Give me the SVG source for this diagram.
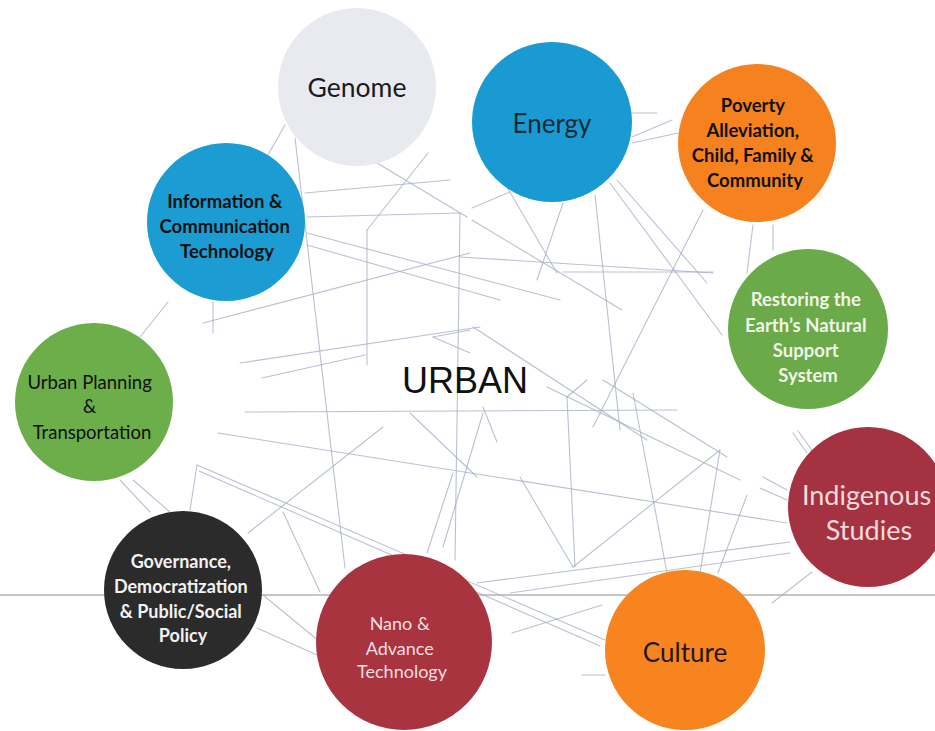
<svg xmlns="http://www.w3.org/2000/svg" width="935" height="731" viewBox="0 0 935 731">
  <style>
    .web line { stroke: #a3adc4; stroke-width: 1.1; stroke-linecap: round; opacity: 0.75; }
    .rule { stroke: #8c8c8c; stroke-width: 1; }
    .lbl { font-family: Lato, "Open Sans", "Liberation Sans", sans-serif; text-anchor: middle; }
    .b { font-weight: bold; }
    .center { font-family: "Liberation Sans", Arial, sans-serif; font-size: 36px; fill: #111; text-anchor: middle; }
  </style>
  <rect width="935" height="731" fill="#ffffff"/>

  <!-- thin horizontal rule behind everything -->
  <line class="rule" x1="0" y1="595" x2="935" y2="595"/>

  <!-- connector web -->
  <g id="connectors" class="web">
    <line x1="285" y1="125" x2="268" y2="155"/>
    <line x1="168" y1="302" x2="140" y2="337"/>
    <line x1="295" y1="138" x2="345" y2="568"/>
    <line x1="377" y1="163" x2="467" y2="217"/>
    <line x1="428" y1="153" x2="367" y2="230"/>
    <line x1="305" y1="193" x2="450" y2="180"/>
    <line x1="307" y1="217" x2="460" y2="213"/>
    <line x1="307" y1="233" x2="560" y2="300"/>
    <line x1="307" y1="245" x2="500" y2="300"/>
    <line x1="203" y1="323" x2="470" y2="253"/>
    <line x1="213" y1="302" x2="213" y2="333"/>
    <line x1="367" y1="230" x2="367" y2="365"/>
    <line x1="460" y1="213" x2="455" y2="560"/>
    <line x1="240" y1="363" x2="480" y2="327"/>
    <line x1="262" y1="378" x2="365" y2="355"/>
    <line x1="433" y1="337" x2="470" y2="330"/>
    <line x1="433" y1="337" x2="470" y2="353"/>
    <line x1="507" y1="187" x2="557" y2="273"/>
    <line x1="563" y1="203" x2="537" y2="280"/>
    <line x1="595" y1="195" x2="620" y2="430"/>
    <line x1="610" y1="183" x2="722" y2="335"/>
    <line x1="617" y1="180" x2="707" y2="283"/>
    <line x1="703" y1="210" x2="593" y2="427"/>
    <line x1="753" y1="225" x2="747" y2="273"/>
    <line x1="773" y1="225" x2="773" y2="250"/>
    <line x1="460" y1="257" x2="713" y2="273"/>
    <line x1="563" y1="272" x2="713" y2="272"/>
    <line x1="473" y1="327" x2="647" y2="440"/>
    <line x1="632" y1="113" x2="657" y2="113"/>
    <line x1="632" y1="137" x2="672" y2="120"/>
    <line x1="632" y1="143" x2="678" y2="133"/>
    <line x1="472" y1="208" x2="510" y2="192"/>
    <line x1="472" y1="220" x2="622" y2="310"/>
    <line x1="218" y1="433" x2="787" y2="523"/>
    <line x1="245" y1="412" x2="677" y2="410"/>
    <line x1="197" y1="465" x2="190" y2="510"/>
    <line x1="197" y1="465" x2="605" y2="640"/>
    <line x1="199" y1="471" x2="600" y2="646"/>
    <line x1="248" y1="533" x2="383" y2="427"/>
    <line x1="120" y1="480" x2="150" y2="512"/>
    <line x1="133" y1="480" x2="170" y2="512"/>
    <line x1="263" y1="595" x2="320" y2="642"/>
    <line x1="257" y1="628" x2="317" y2="655"/>
    <line x1="283" y1="512" x2="320" y2="592"/>
    <line x1="453" y1="473" x2="427" y2="553"/>
    <line x1="483" y1="413" x2="443" y2="547"/>
    <line x1="410" y1="413" x2="477" y2="477"/>
    <line x1="567" y1="397" x2="575" y2="567"/>
    <line x1="567" y1="397" x2="587" y2="380"/>
    <line x1="547" y1="387" x2="740" y2="480"/>
    <line x1="603" y1="380" x2="727" y2="457"/>
    <line x1="633" y1="393" x2="667" y2="573"/>
    <line x1="720" y1="450" x2="700" y2="573"/>
    <line x1="720" y1="450" x2="573" y2="567"/>
    <line x1="747" y1="495" x2="718" y2="573"/>
    <line x1="477" y1="583" x2="790" y2="542"/>
    <line x1="510" y1="593" x2="790" y2="553"/>
    <line x1="763" y1="477" x2="787" y2="490"/>
    <line x1="760" y1="488" x2="787" y2="500"/>
    <line x1="793" y1="433" x2="807" y2="453"/>
    <line x1="798" y1="431" x2="812" y2="450"/>
    <line x1="483" y1="407" x2="497" y2="442"/>
    <line x1="520" y1="477" x2="573" y2="567"/>
    <line x1="772" y1="603" x2="812" y2="572"/>
    <line x1="582" y1="675" x2="605" y2="675"/>
    <line x1="512" y1="633" x2="602" y2="605"/>
  </g>

  <text class="center" x="465" y="393">URBAN</text>

  <g id="genome">
    <circle cx="357" cy="87" r="79" fill="#e9eaef"/>
    <text class="lbl" x="357" y="97" font-size="26.5" fill="#1a1a1a">Genome</text>
  </g>

  <g id="energy">
    <circle cx="552" cy="122" r="80" fill="#1a9ad3"/>
    <text class="lbl" x="552" y="133" font-size="26" fill="#1d2a33">Energy</text>
  </g>

  <g id="ict">
    <circle cx="226" cy="222" r="79" fill="#1b9dd3"/>
    <text class="lbl b" font-size="18.5" fill="#111">
      <tspan x="227" y="208">Information &amp;</tspan>
      <tspan x="227" y="233">Communication</tspan>
      <tspan x="227" y="258">Technology</tspan>
    </text>
  </g>

  <g id="poverty">
    <circle cx="757" cy="143" r="79" fill="#f6821f"/>
    <text class="lbl b" font-size="18.5" fill="#111">
      <tspan x="755" y="112">Poverty</tspan>
      <tspan x="755" y="137">Alleviation,</tspan>
      <tspan x="755" y="162">Child, Family &amp;</tspan>
      <tspan x="755" y="187">Community</tspan>
    </text>
  </g>

  <g id="restoring">
    <circle cx="808" cy="329" r="80" fill="#6aaa48"/>
    <text class="lbl b" font-size="18.5" fill="#f1f5e8">
      <tspan x="808" y="306">Restoring the</tspan>
      <tspan x="808" y="332">Earth’s Natural</tspan>
      <tspan x="808" y="357">Support</tspan>
      <tspan x="808" y="382">System</tspan>
    </text>
  </g>

  <g id="urban-planning">
    <circle cx="94" cy="402" r="79" fill="#6cae4a"/>
    <text class="lbl" font-size="18.5" fill="#111">
      <tspan x="92" y="389">Urban Planning</tspan>
      <tspan x="92" y="413">&amp;</tspan>
      <tspan x="92" y="439">Transportation</tspan>
    </text>
  </g>

  <g id="governance">
    <circle cx="183" cy="590" r="79" fill="#2b2b2b"/>
    <text class="lbl b" font-size="18" fill="#f2f2f2">
      <tspan x="183" y="568">Governance,</tspan>
      <tspan x="183" y="593">Democratization</tspan>
      <tspan x="183" y="618">&amp; Public/Social</tspan>
      <tspan x="183" y="642">Policy</tspan>
    </text>
  </g>

  <g id="nano">
    <circle cx="404" cy="642" r="88" fill="#a8343f"/>
    <text class="lbl" font-size="18" fill="#f6dfe2">
      <tspan x="402" y="630">Nano &amp;</tspan>
      <tspan x="402" y="655">Advance</tspan>
      <tspan x="402" y="678">Technology</tspan>
    </text>
  </g>

  <g id="culture">
    <circle cx="685" cy="650" r="80" fill="#f7841f"/>
    <text class="lbl" x="685" y="662" font-size="26" fill="#231710">Culture</text>
  </g>

  <g id="indigenous">
    <circle cx="868" cy="507" r="80" fill="#a53241"/>
    <text class="lbl" font-size="27" fill="#f4dadd">
      <tspan x="870" y="505">Indigenous</tspan>
      <tspan x="869" y="540">Studies</tspan>
    </text>
  </g>
</svg>
